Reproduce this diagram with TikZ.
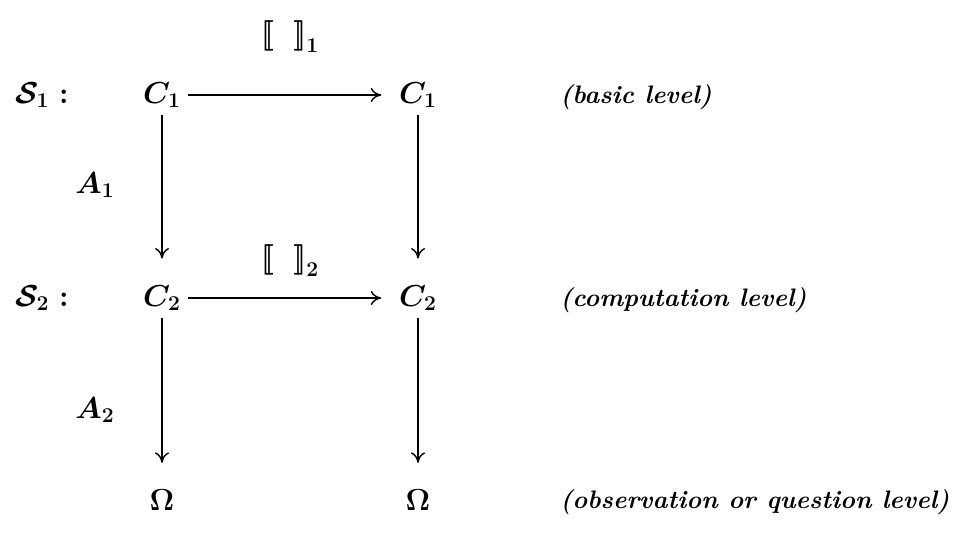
\documentclass[tikz,border=0pt]{standalone}
\usepackage{amsmath}
\usetikzlibrary{arrows.meta, positioning}

\begin{document}
\begin{tikzpicture}[x=0.02cm, y=-0.02cm,
    obj/.style={font=\LARGE\boldmath, inner sep=4pt},
    lvl/.style={font=\Large\bfseries\itshape, anchor=west, inner sep=0pt},
    arrow/.style={-{To[length=6pt, width=8pt]}, thick},
    down/.style={arrow, shorten >=11pt}
  ]
  \useasboundingbox (0,0) rectangle (972,542);

  % row labels
  \node[obj] (s1) at (42,95) {$\mathcal{S}_1:$};
  \node[obj] (s2) at (42,298) {$\mathcal{S}_2:$};

  % objects
  \node[obj] (c1l) at (162,95) {$C_1$};
  \node[obj] (c1r) at (418,95) {$C_1$};
  \node[obj] (c2l) at (162,298) {$C_2$};
  \node[obj] (c2r) at (418,298) {$C_2$};
  \node[obj] (ol) at (162,500) {$\Omega$};
  \node[obj] (or) at (418,500) {$\Omega$};

  % levels
  \node[lvl] (basic) at (560,97) {(basic level)};
  \node[lvl] (comp) at (560,300) {(computation level)};
  \node[lvl] (obs) at (560,502) {(observation or question level)};

  % maps
  \draw[arrow, shorten >=6pt] (c1l) -- node[obj, above=20pt] (sem1) {$\mathbf{[\![}\;\;\mathbf{]\!]}_1$} (c1r);
  \draw[arrow, shorten >=6pt] (c2l) -- node[obj, above=8pt] (sem2) {$\mathbf{[\![}\;\;\mathbf{]\!]}_2$} (c2r);
  \draw[down] (c1l) -- (c2l);
  \draw[down] (c1r) -- (c2r);
  \draw[down] (c2l) -- (ol);
  \draw[down] (c2r) -- (or);

  \node[obj] (a1) at (95,185) {$A_1$};
  \node[obj] (a2) at (95,410) {$A_2$};
\end{tikzpicture}
\end{document}
